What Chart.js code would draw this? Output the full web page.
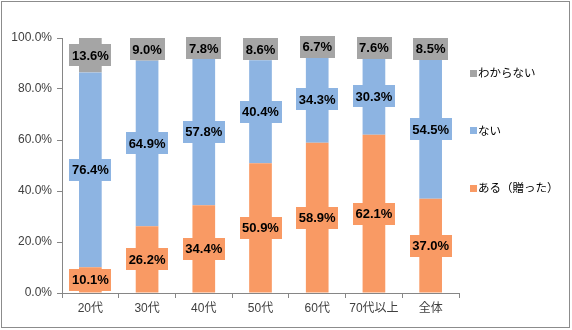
<!DOCTYPE html>
<html>
<head>
<meta charset="utf-8">
<style>
  body { margin: 0; background: #fff; }
  #wrap { width: 572px; height: 330px; }
</style>
<script src="https://cdn.jsdelivr.net/npm/chart.js@4/dist/chart.umd.min.js"></script>
</head>
<body>
<div id="wrap"><canvas id="giftChart" width="572" height="330"></canvas></div>
<script>
// DATA -------------------------------------------------------------------
const categories = ["20代", "30代", "40代", "50代", "60代", "70代以上", "全体"];
const aruValues = [10.1, 26.2, 34.4, 50.9, 58.9, 62.1, 37.0];      // ある（贈った）
const naiValues = [76.4, 64.9, 57.8, 40.4, 34.3, 30.3, 54.5];      // ない
const wakaranaiValues = [13.6, 9.0, 7.8, 8.6, 6.7, 7.6, 8.5];      // わからない
const yTicks = [0, 20, 40, 60, 80, 100];

const seriesNames = ["ある（贈った）", "ない", "わからない"];
const seriesColors = ["#F99A64", "#8DB4E2", "#A5A5A5"];

const axisColor = "#868686";
const textColor = "#404040";
const fontFamily = "'Liberation Sans', 'Noto Sans CJK JP', sans-serif";

// frame round the whole picture
const framePlugin = {
    id: 'frame',
    beforeDraw(chart) {
        const ctx = chart.ctx;
        ctx.save();
        ctx.fillStyle = '#fff';
        ctx.fillRect(0, 0, chart.width, chart.height);
        ctx.strokeStyle = '#8c8c8c';
        ctx.lineWidth = 1;
        ctx.strokeRect(1.5, 1.5, 568, 326);
        ctx.restore();
    }
};

// value boxes on every segment
const valueBoxPlugin = {
    id: 'valueBoxes',
    afterDatasetsDraw(chart) {
        const ctx = chart.ctx;
        ctx.save();
        ctx.font = "bold 13px 'Liberation Sans', sans-serif";
        ctx.textAlign = 'center';
        ctx.textBaseline = 'middle';
        chart.data.datasets.forEach((ds, i) => {
            const meta = chart.getDatasetMeta(i);
            meta.data.forEach((bar, j) => {
                const label = ds.data[j].toFixed(1) + '%';
                const y = (bar.y + bar.base) / 2;
                const w = ctx.measureText(label).width + 5;
                const h = 22;
                ctx.fillStyle = ds.backgroundColor;
                ctx.fillRect(Math.round(bar.x - w / 2), Math.round(y - h / 2), Math.round(w), h);
                ctx.fillStyle = '#000';
                ctx.fillText(label, bar.x, y + 1);
            });
        });
        ctx.restore();
    }
};

// legend at right, top item first
const sideLegendPlugin = {
    id: 'sideLegend',
    afterDraw(chart) {
        const ctx = chart.ctx;
        const x = chart.chartArea.right + 11;
        ctx.save();
        ctx.font = "11.5px 'Noto Sans CJK JP', sans-serif";
        ctx.textAlign = 'left';
        ctx.textBaseline = 'middle';
        const order = [2, 1, 0];
        order.forEach((dsIndex, k) => {
            const ds = chart.data.datasets[dsIndex];
            const cy = 73 + k * 57.5;
            ctx.fillStyle = ds.backgroundColor;
            ctx.fillRect(x, Math.round(cy - 3.5), 7, 7);
            ctx.fillStyle = '#000';
            ctx.fillText(ds.label, x + 8, cy);
        });
        ctx.restore();
    }
};

const ctx = document.getElementById('giftChart').getContext('2d');

new Chart(ctx, {
    type: 'bar',
    data: {
        labels: categories,
        datasets: [
            { label: seriesNames[0], data: aruValues, backgroundColor: seriesColors[0] },
            { label: seriesNames[1], data: naiValues, backgroundColor: seriesColors[1] },
            { label: seriesNames[2], data: wakaranaiValues, backgroundColor: seriesColors[2] }
        ]
    },
    options: {
        responsive: false,
        animation: false,
        devicePixelRatio: 1,
        layout: { padding: { top: 38, right: 113, bottom: 3, left: 0 } },
        datasets: {
            bar: { barPercentage: 0.4, categoryPercentage: 1.0, borderWidth: 0 }
        },
        plugins: {
            legend: { display: false },
            tooltip: { enabled: false }
        },
        scales: {
            x: {
                stacked: true,
                afterFit: scale => { scale.height = 34; },
                border: { color: axisColor },
                grid: { display: true, drawOnChartArea: false, offset: true, tickLength: 5, color: axisColor },
                ticks: { color: textColor, padding: 3, font: { family: fontFamily, size: 12 } }
            },
            y: {
                stacked: true,
                min: 0,
                max: 100,
                afterFit: scale => { scale.width = 62; },
                afterBuildTicks: scale => { scale.ticks = yTicks.map(v => ({ value: v })); },
                border: { color: axisColor },
                grid: { display: true, drawOnChartArea: false, tickLength: 5, color: axisColor },
                ticks: {
                    color: textColor,
                    padding: 5,
                    font: { family: fontFamily, size: 12 },
                    callback: v => v.toFixed(1) + '%'
                }
            }
        }
    },
    plugins: [framePlugin, valueBoxPlugin, sideLegendPlugin]
});
</script>
</body>
</html>
